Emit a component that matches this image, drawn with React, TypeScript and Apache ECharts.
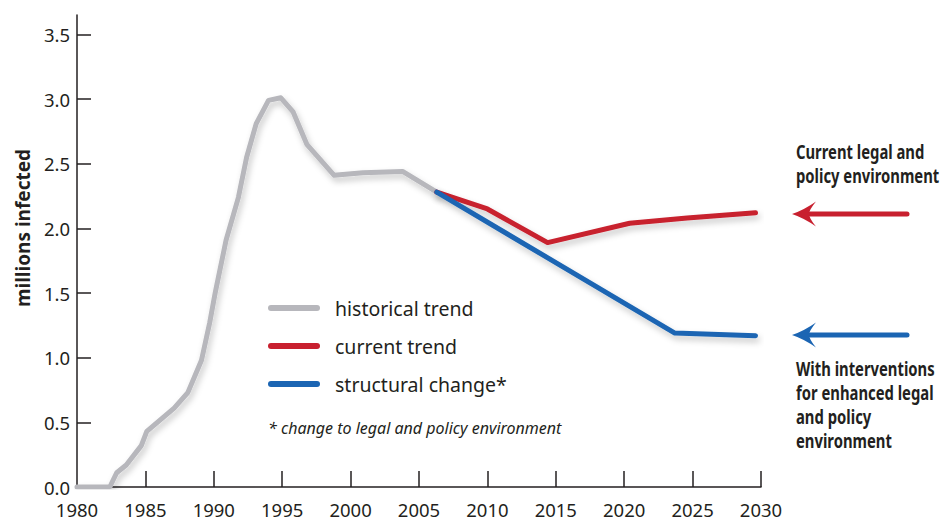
import { useEffect, useRef } from "react";
import * as echarts from "echarts";

// ---- data ----
const yearTicks = [1980, 1985, 1990, 1995, 2000, 2005, 2010, 2015, 2020, 2025, 2030];
const valueTicks = [0, 0.5, 1.0, 1.5, 2.0, 2.5, 3.0, 3.5];
const seriesNames = ["historical trend", "current trend", "structural change*"];

const historicalTrend: [number, number][] = [
  [1980, 0], [1982.4, 0], [1982.9, 0.11], [1983.6, 0.17], [1984.7, 0.32],
  [1985.1, 0.43], [1987.1, 0.61], [1988.1, 0.73], [1989.1, 0.98], [1989.7, 1.27],
  [1990.1, 1.5], [1990.9, 1.91], [1991.8, 2.24], [1992.4, 2.55], [1993.1, 2.81],
  [1994.0, 2.99], [1994.9, 3.01], [1995.8, 2.9], [1996.8, 2.65], [1998.8, 2.41],
  [2000.9, 2.43], [2003.8, 2.44], [2006.3, 2.28],
];
const currentTrend: [number, number][] = [
  [2006.3, 2.28], [2010.0, 2.15], [2014.4, 1.89], [2020.4, 2.04], [2024.6, 2.08], [2029.6, 2.12],
];
const structuralChange: [number, number][] = [
  [2006.3, 2.28], [2023.7, 1.19], [2029.6, 1.17],
];

const yAxisTitle = "millions infected";
const footnote = "* change to legal and policy environment";
const noteCurrent = "Current legal and\npolicy environment";
const noteStructural = "With interventions\nfor enhanced legal\nand policy\nenvironment";

const GRAY = "#b7b7bc";
const RED = "#c8202f";
const BLUE = "#1b65b3";
const INK = "#231f20";
const FONT = "'Noto Sans', 'Open Sans', sans-serif";

echarts.graphic.registerShape(
  "arrowHead",
  echarts.graphic.extendPath("M0,0 Q12,-4 24,-12.5 Q17,-4 17,0 Q17,4 24,12.5 Q12,4 0,0 Z", {})
);

const shadow = {
  shadowColor: "rgba(0,0,0,0.22)",
  shadowBlur: 6,
  shadowOffsetX: 2,
  shadowOffsetY: 4,
};

export default function App() {
  const ref = useRef<HTMLDivElement>(null);
  useEffect(() => {
    if (!ref.current) return;
    const chart = echarts.init(ref.current, null, { renderer: "svg" });
    const arrow = (y: number, color: string) => [
      {
        type: "line",
        shape: { x1: 907, y1: y, x2: 808, y2: y },
        style: { stroke: color, lineWidth: 5, lineCap: "round" },
      },
      {
        type: "arrowHead",
        x: 792,
        y,
        style: { fill: color },
      },
    ];
    const note = (text: string, y: number) => ({
      type: "text",
      x: 796,
      y,
      scaleX: 0.78,
      style: {
        text,
        fill: INK,
        font: `bold 19px ${FONT}`,
        lineHeight: 24,
        verticalAlign: "top",
      },
    });
    chart.setOption({
      animation: false,
      backgroundColor: "#ffffff",
      grid: { left: 77, right: 180, top: 15, bottom: 44 },
      xAxis: {
        type: "value",
        min: 1980,
        max: 2030,
        interval: 5,
        axisLine: { show: true, lineStyle: { color: INK, width: 1.5 } },
        axisTick: {
          show: true,
          inside: true,
          length: 16,
          lineStyle: { color: INK, width: 1.5 },
          customValues: yearTicks.slice(1),
        },
        axisLabel: {
          color: INK,
          fontFamily: FONT,
          fontSize: 18.5,
          margin: 13,
          customValues: yearTicks,
          formatter: (v: number) => String(v),
        },
        splitLine: { show: false },
      },
      yAxis: {
        type: "value",
        min: 0,
        max: 3.65,
        axisLine: { show: true, lineStyle: { color: INK, width: 1.5 } },
        axisTick: {
          show: true,
          inside: true,
          length: 14,
          lineStyle: { color: INK, width: 1.5 },
          customValues: valueTicks,
        },
        axisLabel: {
          color: INK,
          fontFamily: FONT,
          fontSize: 18.5,
          margin: 7,
          customValues: valueTicks,
          formatter: (v: number) => v.toFixed(1),
        },
        splitLine: { show: false },
      },
      legend: {
        orient: "vertical",
        left: 268,
        top: 296,
        padding: 0,
        selectedMode: false,
        itemWidth: 52,
        itemHeight: 6,
        itemGap: 14,
        icon: "path://M3,0 H49 A3,3 0 0 1 49,6 H3 A3,3 0 0 1 3,0 Z",
        data: seriesNames,
        textStyle: {
          color: INK,
          fontFamily: FONT,
          fontSize: 19.5,
          lineHeight: 24,
          padding: [0, 0, 0, 10],
        },
      },
      series: [
        {
          name: seriesNames[0],
          type: "line",
          data: historicalTrend,
          symbol: "none",
          color: GRAY,
          lineStyle: { color: GRAY, width: 5, cap: "round", join: "round", ...shadow },
          z: 2,
        },
        {
          name: seriesNames[1],
          type: "line",
          data: currentTrend,
          symbol: "none",
          color: RED,
          lineStyle: { color: RED, width: 5, cap: "round", join: "round", ...shadow },
          z: 3,
        },
        {
          name: seriesNames[2],
          type: "line",
          data: structuralChange,
          symbol: "none",
          color: BLUE,
          lineStyle: { color: BLUE, width: 5, cap: "round", join: "round", ...shadow },
          z: 4,
        },
      ],
      graphic: [
        ...arrow(214, RED),
        ...arrow(335, BLUE),
        {
          type: "text",
          x: 23,
          y: 228,
          rotation: Math.PI / 2,
          style: {
            text: yAxisTitle,
            fill: INK,
            font: `bold 19px ${FONT}`,
            align: "center",
            verticalAlign: "middle",
          },
        },
        {
          type: "text",
          left: 268,
          top: 420,
          style: {
            text: footnote,
            fill: INK,
            font: `italic 16px ${FONT}`,
          },
        },
        note(noteCurrent, 140),
        note(noteStructural, 357),
      ],
    });
    return () => chart.dispose();
  }, []);
  return (
    <div
      ref={ref}
      style={{ position: "fixed", left: 0, top: 0, width: 941, height: 531 }}
    />
  );
}
